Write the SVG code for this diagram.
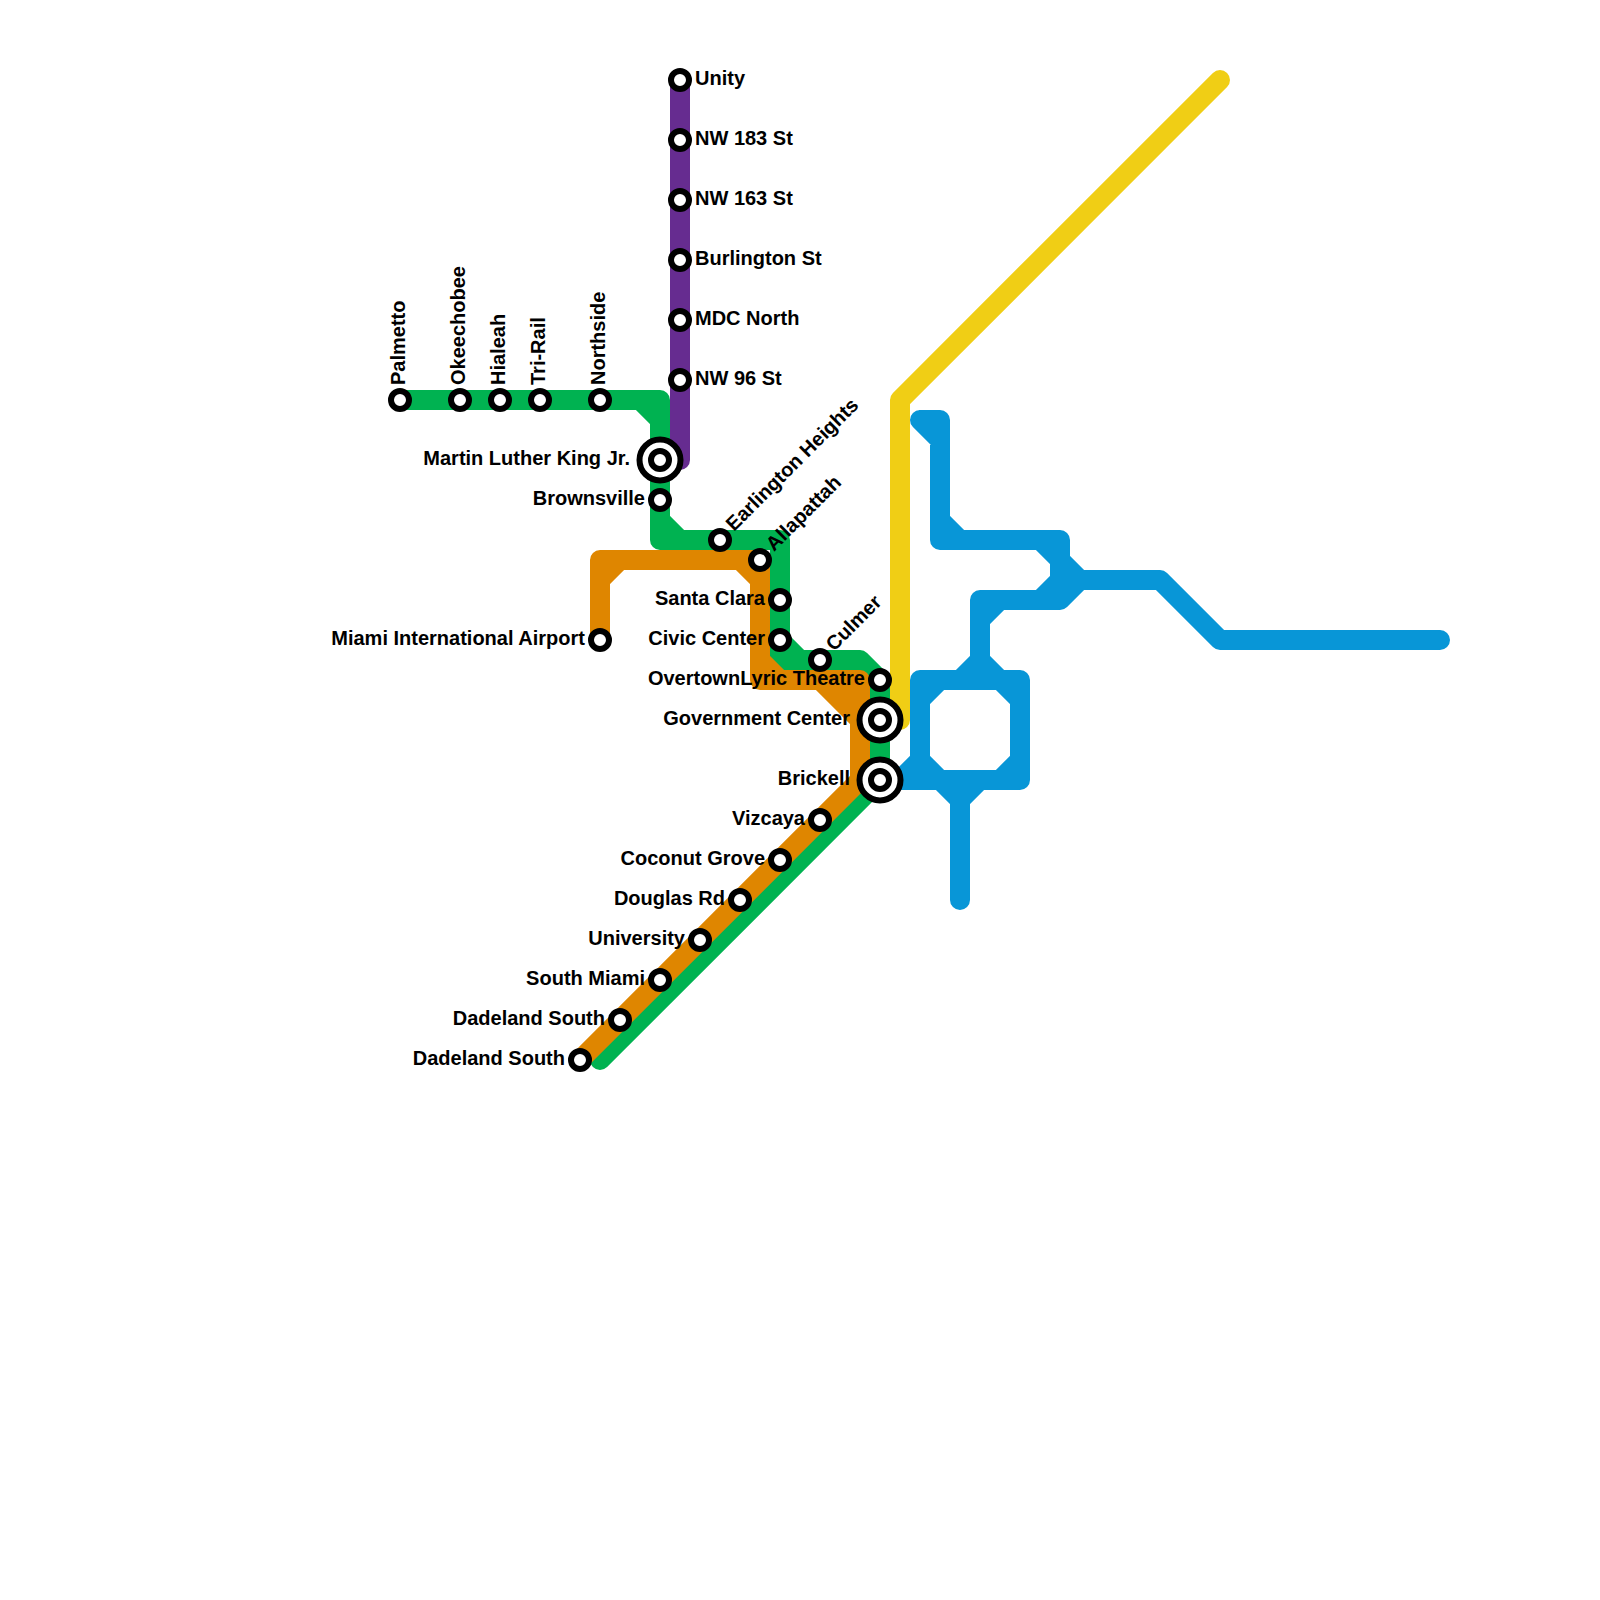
<svg xmlns="http://www.w3.org/2000/svg" width="1600" height="1600" viewBox="0 0 1600 1600">
<style>
.l{fill:none;stroke-width:20;stroke-linecap:round;stroke-linejoin:round}
.s{fill:#fff;stroke:#000;stroke-width:6}
.t{font-family:"Liberation Sans",Arial,sans-serif;font-weight:700;font-size:20px;fill:#000}
.e{text-anchor:end}
</style>
<defs>
<circle id="st" class="s" r="9"/>
<g id="ic"><circle class="s" r="20.5"/><circle class="s" r="9"/></g>
</defs>
<rect width="1600" height="1600" fill="#fff"/>
<g id="connectors">
<path id="line-yellow" class="l" stroke="#f0ce15" d="M1220 80L900 400V720H880"/>
<path id="line-purple" class="l" stroke="#662c90" d="M680 80V460H660"/>
<path id="line-green" class="l" stroke="#00b251" d="M400 400H660V540H780V660H860L880 680V780L600 1060M640 400L660 420M660 520L680 540M780 640L800 660"/>
<path id="line-orange" class="l" stroke="#df8600" d="M600 640V560H760V680H860V780L580 1060M600 580L620 560M740 560L760 580M760 660L780 680M820 680L860 720M840 680L860 700"/>
<path id="line-blue" class="l" stroke="#0896d7" d="M920 420H940V540H1060V600H980V680M920 420L940 440M940 520L960 540M1040 540L1060 560L1080 580L1060 600M1060 580L1040 600M1080 580H1160L1220 640H1440M980 620L1000 600M960 680L980 660L1000 680M920 780V680H1020V780H880M920 700L940 680M1000 680L1020 700M1020 760L1000 780M920 760L940 780M900 780L920 760M940 780L960 800L980 780M960 800V900"/>
</g>
<g id="palmetto"><use href="#st" x="400" y="400"/><text class="t" transform="translate(405 385) rotate(-90)">Palmetto</text></g>
<g id="okeechobee"><use href="#st" x="460" y="400"/><text class="t" transform="translate(465 385) rotate(-90)">Okeechobee</text></g>
<g id="hialeah"><use href="#st" x="500" y="400"/><text class="t" transform="translate(505 385) rotate(-90)">Hialeah</text></g>
<g id="tri-rail"><use href="#st" x="540" y="400"/><text class="t" transform="translate(545 385) rotate(-90)">Tri-Rail</text></g>
<g id="northside"><use href="#st" x="600" y="400"/><text class="t" transform="translate(605 385) rotate(-90)">Northside</text></g>
<g id="unity"><use href="#st" x="680" y="80"/><text class="t" x="695" y="85">Unity</text></g>
<g id="nw-183"><use href="#st" x="680" y="140"/><text class="t" x="695" y="145">NW 183 St</text></g>
<g id="nw-163"><use href="#st" x="680" y="200"/><text class="t" x="695" y="205">NW 163 St</text></g>
<g id="burlington"><use href="#st" x="680" y="260"/><text class="t" x="695" y="265">Burlington St</text></g>
<g id="mdc-north"><use href="#st" x="680" y="320"/><text class="t" x="695" y="325">MDC North</text></g>
<g id="nw-96"><use href="#st" x="680" y="380"/><text class="t" x="695" y="385">NW 96 St</text></g>
<g id="mlk"><use href="#ic" x="660" y="460"/><text class="t e" x="630" y="465">Martin Luther King Jr.</text></g>
<g id="brownsville"><use href="#st" x="660" y="500"/><text class="t e" x="645" y="505">Brownsville</text></g>
<g id="earlington"><use href="#st" x="720" y="540"/><text class="t" transform="translate(734 532) rotate(-45)">Earlington Heights</text></g>
<g id="allapattah"><use href="#st" x="760" y="560"/><text class="t" transform="translate(774 552) rotate(-45)">Allapattah</text></g>
<g id="santa-clara"><use href="#st" x="780" y="600"/><text class="t e" x="765" y="605">Santa Clara</text></g>
<g id="civic-center"><use href="#st" x="780" y="640"/><text class="t e" x="765" y="645">Civic Center</text></g>
<g id="airport"><use href="#st" x="600" y="640"/><text class="t e" x="585" y="645">Miami International Airport</text></g>
<g id="culmer"><use href="#st" x="820" y="660"/><text class="t" transform="translate(834 652) rotate(-45)">Culmer</text></g>
<g id="lyric-theatre"><use href="#st" x="880" y="680"/><text class="t e" x="865" y="685">OvertownLyric Theatre</text></g>
<g id="government-center"><use href="#ic" x="880" y="720"/><text class="t e" x="850" y="725">Government Center</text></g>
<g id="brickell"><use href="#ic" x="880" y="780"/><text class="t e" x="850" y="785">Brickell</text></g>
<g id="vizcaya"><use href="#st" x="820" y="820"/><text class="t e" x="805" y="825">Vizcaya</text></g>
<g id="coconut-grove"><use href="#st" x="780" y="860"/><text class="t e" x="765" y="865">Coconut Grove</text></g>
<g id="douglas-rd"><use href="#st" x="740" y="900"/><text class="t e" x="725" y="905">Douglas Rd</text></g>
<g id="university"><use href="#st" x="700" y="940"/><text class="t e" x="685" y="945">University</text></g>
<g id="south-miami"><use href="#st" x="660" y="980"/><text class="t e" x="645" y="985">South Miami</text></g>
<g id="dadeland-south-1"><use href="#st" x="620" y="1020"/><text class="t e" x="605" y="1025">Dadeland South</text></g>
<g id="dadeland-south-2"><use href="#st" x="580" y="1060"/><text class="t e" x="565" y="1065">Dadeland South</text></g>
</svg>
